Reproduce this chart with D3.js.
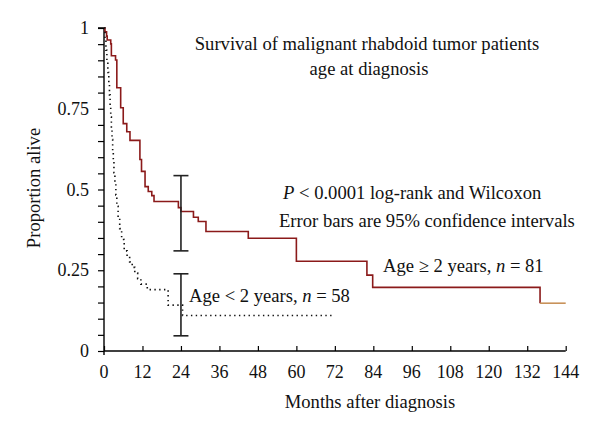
<!DOCTYPE html>
<html>
<head>
<meta charset="utf-8">
<script src="https://cdn.jsdelivr.net/npm/d3@7"></script>
<style>
  html, body { margin: 0; padding: 0; background: #fff; }
  svg { display: block; }
  text { font-family: "Liberation Serif", "DejaVu Serif", serif; fill: #111; }
</style>
</head>
<body>
<svg id="chart" width="600" height="434"></svg>
<script>
// ---- data ----
const olderTimes = [0, 0.3, 0.8, 1.0, 2.1, 2.3, 3.6, 4.0, 5.2, 6.0, 7.1, 8.1, 11.2, 11.7, 12.8, 13.8, 14.9, 15.6, 23.2, 24.0, 27.9, 29.4, 31.8, 45.0, 60.0, 82.0, 83.8, 136.0];
const olderSurv  = [1.0, 0.988, 0.975, 0.963, 0.951, 0.914, 0.901, 0.815, 0.753, 0.704, 0.679, 0.652, 0.593, 0.556, 0.509, 0.494, 0.481, 0.463, 0.444, 0.432, 0.414, 0.401, 0.370, 0.349, 0.278, 0.235, 0.197, 0.148];
const olderEnd = 144;

const youngTimes = [0, 0.3, 0.6, 0.9, 1.2, 1.5, 1.7, 1.9, 2.1, 2.3, 2.5, 2.7, 2.9, 3.1, 3.4, 3.7, 4.0, 4.4, 4.9, 5.5, 6.3, 7.2, 8.0, 8.8, 9.6, 10.5, 11.5, 13.5, 20.0, 24.5];
const youngSurv  = [1.0, 0.966, 0.931, 0.897, 0.862, 0.828, 0.793, 0.759, 0.724, 0.690, 0.655, 0.621, 0.586, 0.552, 0.517, 0.483, 0.448, 0.414, 0.379, 0.345, 0.310, 0.293, 0.276, 0.259, 0.241, 0.224, 0.207, 0.190, 0.142, 0.110];
const youngEnd = 72;

const errTime = [24, 24];
const errLow  = [0.310, 0.047];
const errHigh = [0.543, 0.239];

const xTicks = [0, 12, 24, 36, 48, 60, 72, 84, 96, 108, 120, 132, 144];
const yMinorTicks = [0,0.05,0.1,0.15,0.2,0.25,0.3,0.35,0.4,0.45,0.5,0.55,0.6,0.65,0.7,0.75,0.8,0.85,0.9,0.95,1];
const yLabels = [0, 0.25, 0.5, 0.75, 1];

// ---- layout ----
const svg = d3.select("#chart");
const x = d3.scaleLinear().domain([0, 144]).range([104, 565.7]);
const y = d3.scaleLinear().domain([0, 1]).range([351, 28]);
const fs = 18.6;
const fsTick = 18;

// axes
const yAxis = d3.axisLeft(y).tickValues(yMinorTicks).tickSize(6).tickFormat("");
const gy = svg.append("g").attr("transform", `translate(${x(0)},0)`).call(yAxis);
gy.select(".domain").attr("d", `M-6,${y(1)}H0V${y(0) + 4}`).attr("stroke", "#000").attr("stroke-width", 1.4);
gy.selectAll(".tick line").attr("stroke", "#000").attr("stroke-width", 1.2);

const xAxis = d3.axisBottom(x).tickValues(xTicks).tickSize(-5).tickFormat("");
const gx = svg.append("g").attr("transform", `translate(0,${y(0)})`).call(xAxis);
gx.select(".domain").attr("d", `M${x(0)},0H${x(144)}`).attr("stroke", "#000").attr("stroke-width", 1.4);
gx.selectAll(".tick line").attr("stroke", "#000").attr("stroke-width", 1.2);

// tick labels
svg.append("g").selectAll("text").data(xTicks).join("text")
  .attr("x", d => x(d)).attr("y", 378)
  .attr("text-anchor", "middle").attr("font-size", fsTick)
  .text(d => d);
svg.append("g").selectAll("text").data(yLabels).join("text")
  .attr("x", 89).attr("y", d => y(d) + 6)
  .attr("text-anchor", "end").attr("font-size", fsTick)
  .text(d => d);

// axis titles
svg.append("text").attr("x", 370).attr("y", 408).attr("text-anchor", "middle")
  .attr("font-size", fs).text("Months after diagnosis");
svg.append("text").attr("transform", "translate(40,188) rotate(-90)")
  .attr("text-anchor", "middle").attr("font-size", fs).text("Proportion alive");

// curves
const line = d3.line().x(d => x(d[0])).y(d => y(d[1])).curve(d3.curveStepAfter);

const olderPts = olderTimes.map((t, i) => [t, olderSurv[i]]);
svg.append("path").attr("d", line(olderPts))
  .attr("fill", "none").attr("stroke", "#8b1a1a").attr("stroke-width", 1.6);
const lastOld = olderPts[olderPts.length - 1];
svg.append("path").attr("d", line([lastOld, [olderEnd, lastOld[1]]]))
  .attr("fill", "none").attr("stroke", "#c8925a").attr("stroke-width", 1.6);

const youngPts = youngTimes.map((t, i) => [t, youngSurv[i]]);
youngPts.push([youngEnd, youngSurv[youngSurv.length - 1]]);
svg.append("path").attr("d", line(youngPts))
  .attr("fill", "none").attr("stroke", "#111").attr("stroke-width", 1.6)
  .attr("stroke-dasharray", "1.4,3.4");

// error bars
const eb = svg.append("g").attr("stroke", "#222").attr("stroke-width", 1.6);
errTime.forEach((t, i) => {
  eb.append("line").attr("x1", x(t)).attr("x2", x(t)).attr("y1", y(errLow[i])).attr("y2", y(errHigh[i]));
  eb.append("line").attr("x1", x(t) - 7.5).attr("x2", x(t) + 7.5).attr("y1", y(errLow[i])).attr("y2", y(errLow[i]));
  eb.append("line").attr("x1", x(t) - 7.5).attr("x2", x(t) + 7.5).attr("y1", y(errHigh[i])).attr("y2", y(errHigh[i]));
});

// annotations
svg.append("text").attr("x", 367).attr("y", 50).attr("text-anchor", "middle")
  .attr("font-size", fs).text("Survival of malignant rhabdoid tumor patients");
svg.append("text").attr("x", 369).attr("y", 75).attr("text-anchor", "middle")
  .attr("font-size", fs).text("age at diagnosis");

const t1 = svg.append("text").attr("x", 283).attr("y", 199).attr("font-size", fs);
t1.append("tspan").attr("font-style", "italic").text("P");
t1.append("tspan").text(" < 0.0001 log-rank and Wilcoxon");
svg.append("text").attr("x", 279).attr("y", 227).attr("font-size", fs)
  .text("Error bars are 95% confidence intervals");

const t2 = svg.append("text").attr("x", 383).attr("y", 272).attr("font-size", fs);
t2.append("tspan").text("Age ≥ 2 years, ");
t2.append("tspan").attr("font-style", "italic").text("n");
t2.append("tspan").text(" = 81");

const t3 = svg.append("text").attr("x", 189).attr("y", 302).attr("font-size", fs);
t3.append("tspan").text("Age < 2 years, ");
t3.append("tspan").attr("font-style", "italic").text("n");
t3.append("tspan").text(" = 58");
</script>
</body>
</html>
